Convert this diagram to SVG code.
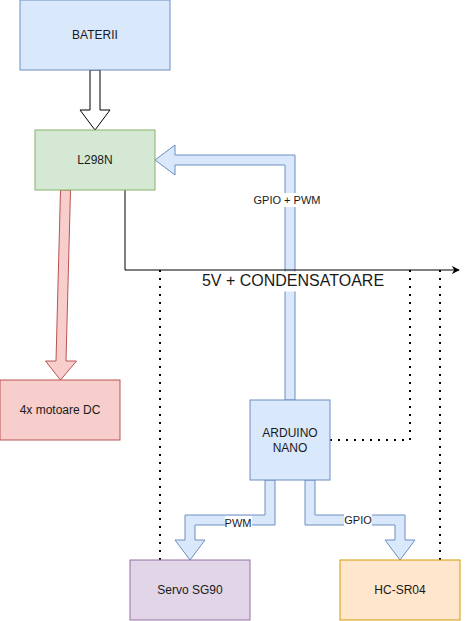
<svg xmlns="http://www.w3.org/2000/svg" width="469" height="621" viewBox="0 0 469 621">
<defs>
<style>
text{font-family:"Liberation Sans",Arial,sans-serif;font-size:12px;fill:#1a1a1a;text-anchor:middle;dominant-baseline:central}
.blue{fill:#dae8fc;stroke:#6c8ebf}
.lbl{font-size:11px}
.dot{fill:none;stroke:#000;stroke-width:2;stroke-dasharray:2 6}
</style>
<marker id="arr" viewBox="0 0 10 10" refX="9" refY="5" markerWidth="8" markerHeight="8" markerUnits="userSpaceOnUse" orient="auto">
<path d="M0,0 L10,5 L0,10 L3,5 z" fill="#000"/>
</marker>
</defs>
<rect width="469" height="621" fill="#fff"/>
<g id="connectors">
<polygon points="90,70 100,70 100,110 110,110 95,130 80,110 90,110" fill="#fff" stroke="#000"/>
<polygon points="60.5,190 70.5,190 66,361 76.5,361 60.5,380 45.5,361 56,361" fill="#f8cecc" stroke="#b85450"/>
<polygon class="blue" points="285,400 285,165 175,165 175,175 155,160 175,145 175,155 295,155 295,400"/>
<polygon class="blue" points="265,480 275,480 275,525 195,525 195,540 205,540 190,560 175,540 185,540 185,515 265,515"/>
<polygon class="blue" points="305,480 315,480 315,515 405,515 405,540 415,540 400,560 385,540 395,540 395,525 305,525"/>
<rect x="197" y="271.5" width="192" height="20" fill="#fff"/>
<polyline points="125,190 125,270 459,270" fill="none" stroke="#000" marker-end="url(#arr)"/>
<polyline class="dot" points="160,270 160,560"/>
<polyline class="dot" points="410,270 410,440 330,440"/>
<polyline class="dot" points="440,270 440,560"/>
<rect x="252" y="193" width="70" height="14" fill="#fff"/>
<text class="lbl" x="287" y="200">GPIO + PWM</text>
<rect x="225" y="516" width="27" height="14" fill="#fff"/>
<text class="lbl" x="238" y="523">PWM</text>
<rect x="344" y="513" width="28" height="14" fill="#fff"/>
<text class="lbl" x="358" y="520">GPIO</text>
<text x="293" y="280" style="font-size:16px">5V + CONDENSATOARE</text>
</g>
<g id="baterii"><rect class="blue" x="20" y="0" width="150" height="70"/><text x="95" y="35">BATERII</text></g>
<g id="l298n"><rect x="35" y="130" width="120" height="60" fill="#d5e8d4" stroke="#82b366"/><text x="95" y="160">L298N</text></g>
<g id="motoare"><rect x="0" y="380" width="120" height="60" fill="#f8cecc" stroke="#b85450"/><text x="60" y="410">4x motoare DC</text></g>
<g id="arduino"><rect class="blue" x="250" y="400" width="80" height="80"/><text x="290" y="433">ARDUINO</text><text x="290" y="448">NANO</text></g>
<g id="servo"><rect x="130" y="560" width="120" height="60" fill="#e1d5e7" stroke="#9673a6"/><text x="190" y="590">Servo SG90</text></g>
<g id="hcsr04"><rect x="340" y="560" width="120" height="60" fill="#ffe6cc" stroke="#d79b00"/><text x="400" y="590">HC-SR04</text></g>
</svg>
